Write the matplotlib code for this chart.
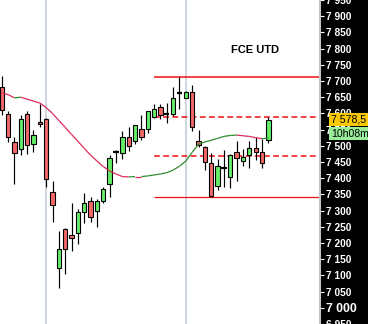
import matplotlib
matplotlib.use("Agg")
import matplotlib.pyplot as plt
import matplotlib.transforms as mtransforms
from matplotlib.collections import LineCollection
from matplotlib.patches import Rectangle
import numpy as np

# candles
opens = [7682, 7597, 7511, 7489, 7597, 7505, 7572, 7584, 7358, 7122, 7244, 7226, 7232, 7296, 7330,
         7299, 7331, 7382, 7480, 7477, 7526, 7514, 7551, 7551, 7590, 7621, 7598, 7597, 7662, 7648,
         7667, 7515, 7497, 7446, 7376, 7430, 7404, 7481, 7453, 7471, 7492, 7482, 7517]
closes = [7609, 7526, 7477, 7584, 7502, 7532, 7566, 7397, 7316, 7180, 7180, 7214, 7296, 7324, 7281,
          7330, 7367, 7462, 7480, 7526, 7499, 7563, 7526, 7606, 7615, 7594, 7598, 7646, 7662, 7665,
          7557, 7504, 7449, 7346, 7437, 7430, 7471, 7461, 7465, 7492, 7482, 7446, 7578.5]
highs = [7716, 7606, 7526, 7594, 7606, 7548, 7630, 7586, 7391, 7238, 7246, 7324, 7306, 7355, 7342,
         7336, 7373, 7471, 7486, 7545, 7557, 7565, 7594, 7608, 7630, 7630, 7633, 7682, 7711, 7670,
         7688, 7548, 7499, 7477, 7459, 7486, 7474, 7514, 7489, 7514, 7526, 7520, 7590]
lows = [7594, 7511, 7382, 7471, 7474, 7480, 7557, 7373, 7266, 7060, 7103, 7174, 7198, 7263, 7266,
        7250, 7324, 7342, 7446, 7459, 7483, 7505, 7517, 7541, 7587, 7584, 7569, 7591, 7615, 7646,
        7545, 7496, 7425, 7342, 7364, 7373, 7370, 7391, 7437, 7431, 7456, 7433, 7508]
ma = [7664, 7658, 7648, 7650, 7644, 7638, 7632, 7618, 7600, 7578, 7557, 7535, 7514, 7492, 7471,
      7453, 7436, 7422, 7413, 7405, 7404, 7405, 7405, 7407, 7410, 7413, 7417, 7425, 7437, 7453,
      7480, 7505, 7512, 7517, 7523, 7529, 7532, 7533, 7531, 7529, 7525, 7522, 7524]

solid_levels = [7712, 7342]
dashed_levels = [7589, 7469]
level_start = 24
session_breaks = [7, 29]
title = "FCE UTD"
last_price = "7 578,5"
countdown = "10h08m"

fig = plt.figure(figsize=(3.68, 3.24), dpi=100, facecolor="black")
ax = fig.add_axes([0, 0, 320 / 368, 1])
ax.set_facecolor("white")

x = np.arange(len(opens))
xmax = 50.13

for b in session_breaks:
    ax.axvline(b, color="#c7ced8", lw=1.2, zorder=0)

ax.vlines(x, lows, highs, color="black", lw=0.85, zorder=2)
for i in x:
    o, c = opens[i], closes[i]
    if abs(c - o) < 3:
        ax.hlines(o, i - 0.42, i + 0.42, color="black", lw=1.6, zorder=3)
        continue
    col = "#66ee66" if c > o else "#f26868"
    ax.add_patch(Rectangle((i - 0.34, min(o, c)), 0.68, abs(c - o), facecolor=col,
                           edgecolor="black", lw=0.8, zorder=3))

# moving average coloured by direction
pts = np.column_stack([x, ma])
segs = np.stack([pts[:-1], pts[1:]], axis=1)
cols = ["#2e8b2e" if ma[k + 1] > ma[k] else "#dc2a5a" for k in range(len(ma) - 1)]
ax.add_collection(LineCollection(segs, colors=cols, lw=0.9, zorder=4))

for lv in solid_levels:
    ax.hlines(lv, level_start, xmax, color="#ee1111", lw=1.1 if lv > 7500 else 0.9, zorder=1)
for lv in dashed_levels:
    ax.hlines(lv, level_start, xmax, color="#ee1111", lw=1.1, linestyles=(0, (3.8, 2.2)), zorder=1)

ax.text(39.9, 7796, title, ha="center", va="center", fontsize=8, fontweight="bold",
        family="Liberation Sans")

ax.set_xlim(-0.27, xmax)
ax.set_ylim(6953, 7946)
ax.set_xticks([])

ticks = np.arange(6950, 7951, 50)
ax.yaxis.tick_right()
ax.set_yticks(ticks)
ax.set_yticklabels([f"{t:,}".replace(",", " ") for t in ticks])
ax.tick_params(axis="y", colors="white", length=3, width=0.8, pad=1.5, labelsize=7.3)
for lab, t in zip(ax.get_yticklabels(), ticks):
    lab.set_family("Liberation Sans")
    lab.set_fontweight("bold")
    if t == 7000:
        lab.set_fontsize(8.8)

for s in ["top", "left", "bottom"]:
    ax.spines[s].set_visible(False)
ax.spines["right"].set_color("#c0c5cd")
ax.spines["right"].set_linewidth(1.5)

trans = mtransforms.blended_transform_factory(ax.transAxes, ax.transData)
ax.add_patch(Rectangle((1.028, 7560), 0.125, 40, transform=trans, clip_on=False,
                       facecolor="#f8c800", edgecolor="none", zorder=6))
ax.text(1.034, 7580, last_price, transform=trans, ha="left", va="center", fontsize=7.6,
        family="Liberation Sans", color="black", clip_on=False, zorder=7)
ax.add_patch(Rectangle((1.028, 7517), 0.125, 40, transform=trans, clip_on=False,
                       facecolor="#98ee98", edgecolor="none", zorder=6))
ax.text(1.034, 7537, countdown, transform=trans, ha="left", va="center", fontsize=7.6,
        family="Liberation Sans", color="black", clip_on=False, zorder=7)

fig.savefig("out.png", dpi=100, facecolor=fig.get_facecolor())
